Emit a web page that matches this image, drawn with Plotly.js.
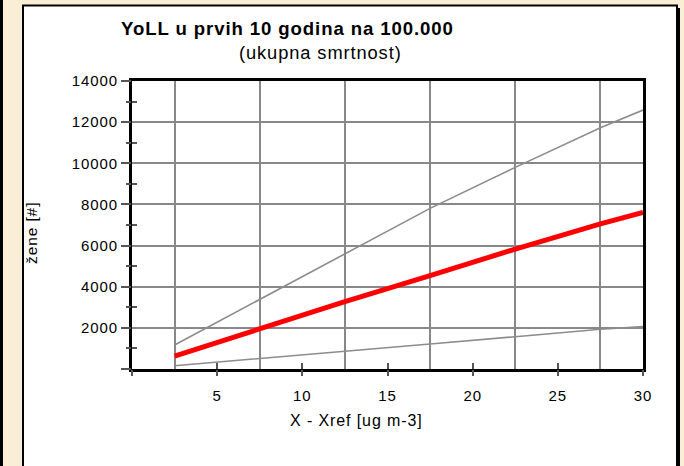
<!DOCTYPE html>
<html>
<head>
<meta charset="utf-8">
<script src="https://cdn.plot.ly/plotly-3.0.1.min.js"></script>
<style>
html,body{margin:0;padding:0;background:#fbeed6;}
#chart{width:684px;height:466px;}
svg text{letter-spacing:0.9px;}
</style>
</head>
<body>
<div id="chart"></div>
<script>
// ---- data ----
const xVals = [2.5, 7.5, 12.5, 17.5, 22.5, 27.5, 30];
const central = [630, 1980, 3270, 4540, 5830, 7050, 7615];
const upper = [1170, 3390, 5620, 7810, 9800, 11730, 12590];
const lower = [160, 520, 890, 1215, 1570, 1930, 2060];

const xTickVals = [0, 5, 10, 15, 20, 25, 30];
const xTickText = ['', '5', '10', '15', '20', '25', '30'];
const xGridVals = [2.5, 7.5, 12.5, 17.5, 22.5, 27.5];
const yTickVals = [0, 2000, 4000, 6000, 8000, 10000, 12000, 14000];
const yTickText = ['', '2000', '4000', '6000', '8000', '10000', '12000', '14000'];
const yGridVals = [2000, 4000, 6000, 8000, 10000, 12000];
const yMinorVals = [1000, 3000, 5000, 7000, 9000, 11000, 13000];

const titleText = '<b>YoLL u prvih 10 godina na 100.000</b>';
const subtitleText = '(ukupna smrtnost)';
const xTitle = 'X - Xref [ug m-3]';
const yTitle = 'žene [#]';

// ---- layout geometry ----
const W = 684, H = 466;
const M = {l: 132, r: 41, t: 81, b: 97};
const pw = W - M.l - M.r, ph = H - M.t - M.b;
const px = v => (v - M.l) / pw;
const py = v => (H - M.b - v) / ph;

const FONT = 'Liberation Sans, Arial, sans-serif';
const tickCol = '#555555';
const gridCol = '#888888';

const traces = [
  {x: xVals, y: lower, mode: 'lines', line: {color: '#8c8c8c', width: 1.6}, hoverinfo: 'skip'},
  {x: xVals, y: upper, mode: 'lines', line: {color: '#8c8c8c', width: 1.6}, hoverinfo: 'skip'},
  {x: xVals, y: central, mode: 'lines', line: {color: '#ff0000', width: 5}, hoverinfo: 'skip'}
];

const xr = [0, 30], yr = [0, 14000];
const layout = {
  width: W, height: H,
  margin: M,
  paper_bgcolor: '#fbeed6',
  plot_bgcolor: 'rgba(0,0,0,0)',
  showlegend: false,
  font: {family: FONT, size: 14, color: '#000'},
  xaxis: {range: xr, tickvals: xGridVals, showticklabels: false, ticks: '',
          showgrid: true, gridcolor: gridCol, gridwidth: 2, zeroline: false,
          showline: true, linecolor: '#000', linewidth: 3, mirror: true, fixedrange: true},
  xaxis2: {range: xr, overlaying: 'x', anchor: 'y', side: 'bottom', tickvals: xTickVals, ticktext: xTickText,
           ticks: 'outside', ticklen: 6, tickwidth: 2, tickcolor: tickCol, showgrid: false, zeroline: false,
           showline: false, ticklabelstandoff: 7, tickfont: {family: FONT, size: 15, color: '#000'}},
  xaxis3: {range: xr, overlaying: 'x', anchor: 'y', side: 'bottom', tickvals: xTickVals, showticklabels: false,
           ticks: 'inside', ticklen: 6, tickwidth: 2, tickcolor: tickCol, showgrid: false, zeroline: false, showline: false},
  yaxis: {range: yr, tickvals: yGridVals, showticklabels: false, ticks: '',
          showgrid: true, gridcolor: gridCol, gridwidth: 2, zeroline: false,
          showline: true, linecolor: '#000', linewidth: 3, mirror: true, fixedrange: true},
  yaxis2: {range: yr, overlaying: 'y', anchor: 'x', side: 'left', tickvals: yTickVals, ticktext: yTickText,
           ticks: 'outside', ticklen: 10, tickwidth: 2, tickcolor: tickCol, showgrid: false, zeroline: false,
           showline: false, tickfont: {family: FONT, size: 15, color: '#000'}},
  yaxis3: {range: yr, overlaying: 'y', anchor: 'x', side: 'left', tickvals: yMinorVals, showticklabels: false,
           ticks: 'outside', ticklen: 5, tickwidth: 2, tickcolor: tickCol, showgrid: false, zeroline: false, showline: false},
  yaxis4: {range: yr, overlaying: 'y', anchor: 'x', side: 'left', tickvals: yMinorVals, showticklabels: false,
           ticks: 'inside', ticklen: 5, tickwidth: 2, tickcolor: tickCol, showgrid: false, zeroline: false, showline: false},
  shapes: [
    {type: 'rect', xref: 'paper', yref: 'paper', layer: 'below',
     x0: px(23), x1: px(677), y0: py(520), y1: py(5.5),
     fillcolor: '#ffffff', line: {color: '#000', width: 2}},
    {type: 'rect', xref: 'paper', yref: 'paper', layer: 'below',
     x0: px(677), x1: px(680), y0: py(520), y1: py(8),
     fillcolor: '#000', line: {width: 0}},
    {type: 'rect', xref: 'paper', yref: 'paper', layer: 'below',
     x0: px(0), x1: px(3), y0: py(520), y1: py(-10),
     fillcolor: '#000', line: {width: 0}}
  ],
  annotations: [
    {text: titleText, xref: 'paper', yref: 'paper', x: px(287), y: py(28), xanchor: 'center', yanchor: 'middle',
     showarrow: false, font: {family: FONT, size: 18.6, color: '#000'}},
    {text: subtitleText, xref: 'paper', yref: 'paper', x: px(320), y: py(52), xanchor: 'center', yanchor: 'middle',
     showarrow: false, font: {family: FONT, size: 18.3, color: '#000'}},
    {text: xTitle, xref: 'paper', yref: 'paper', x: px(356), y: py(420), xanchor: 'center', yanchor: 'middle',
     showarrow: false, font: {family: FONT, size: 16, color: '#000'}},
    {text: yTitle, xref: 'paper', yref: 'paper', x: px(31), y: py(233), xanchor: 'center', yanchor: 'middle',
     textangle: -90, showarrow: false, font: {family: FONT, size: 15.5, color: '#000'}}
  ]
};

traces.forEach(t => { t.xaxis = 'x'; t.yaxis = 'y'; });
const dummy = [
  {x: [null], y: [null], xaxis: 'x2', yaxis: 'y2', hoverinfo: 'skip'},
  {x: [null], y: [null], xaxis: 'x3', yaxis: 'y3', hoverinfo: 'skip'},
  {x: [null], y: [null], xaxis: 'x3', yaxis: 'y4', hoverinfo: 'skip'}
];

Plotly.newPlot('chart', dummy.concat(traces), layout, {staticPlot: true, displayModeBar: false});
</script>
</body>
</html>
